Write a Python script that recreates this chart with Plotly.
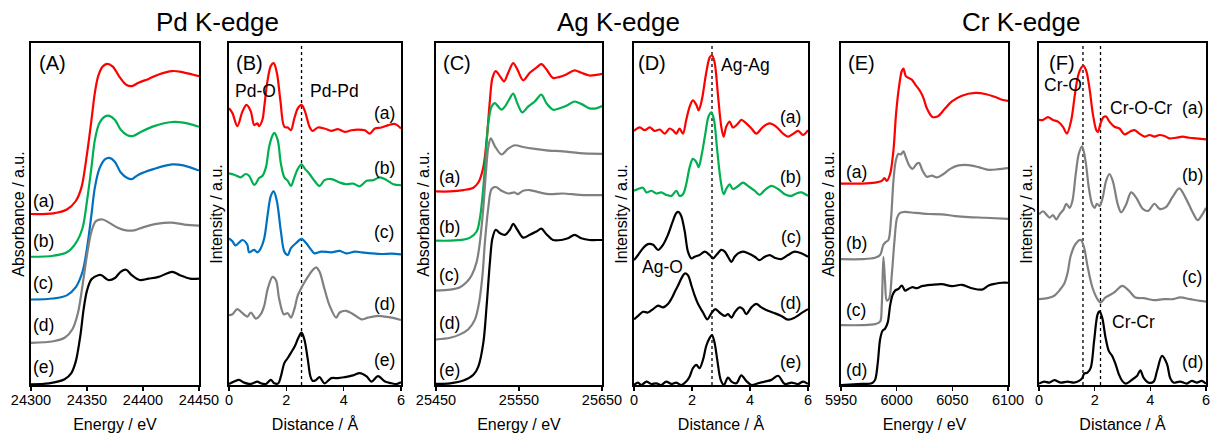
import plotly.graph_objects as go

W, H = 1211, 435
RED, GREEN, BLUE, GRAY, BLACK = "#ff0000", "#00b050", "#0070c0", "#808080", "#000000"
FONT = "Arial, 'Liberation Sans', Helvetica, sans-serif"

# ---------------- Panel A : Pd K-edge XANES ----------------
A_x_a = [24300, 24320, 24332, 24340, 24345, 24350, 24354, 24357, 24360, 24364, 24368, 24373, 24379, 24385, 24390, 24396, 24405, 24414, 24426, 24435, 24444, 24450]
A_y_a = [50.0, 50.2, 51.3, 53.8, 57.7, 67.6, 77.5, 85.4, 90.3, 93.1, 93.9, 93.1, 90.1, 87.8, 87.4, 88.4, 89.5, 90.8, 91.8, 91.5, 90.8, 90.3]
A_x_b = [24300, 24320, 24332, 24340, 24346, 24350, 24354, 24357, 24361, 24366, 24370, 24375, 24380, 24386, 24391, 24398, 24410, 24426, 24436, 24450]
A_y_b = [37.5, 37.8, 38.8, 41.5, 45.9, 53.8, 63.7, 71.6, 76.5, 78.5, 78.7, 77.5, 74.7, 73.0, 72.8, 74.0, 75.7, 76.9, 76.7, 75.5]
A_x_c = [24300, 24320, 24332, 24340, 24346, 24350, 24354, 24357, 24361, 24366, 24370, 24375, 24380, 24386, 24390, 24396, 24410, 24426, 24436, 24450]
A_y_c = [25.0, 25.3, 26.2, 28.6, 33.1, 40.0, 49.9, 57.7, 63.2, 66.0, 66.4, 65.2, 62.2, 60.5, 60.2, 61.5, 63.2, 64.5, 64.2, 62.7]
A_x_d = [24300, 24320, 24330, 24337, 24342, 24346, 24350, 24354, 24358, 24364, 24370, 24378, 24385, 24393, 24400, 24412, 24425, 24437, 24450]
A_y_d = [12.3, 12.8, 13.8, 16.3, 21.2, 29.1, 38.0, 44.9, 47.9, 48.4, 47.4, 45.9, 45.2, 45.3, 46.1, 47.1, 47.5, 46.9, 46.6]
A_x_e = [24300, 24316, 24330, 24336, 24340, 24344, 24347, 24350, 24354, 24360, 24363, 24369, 24375, 24380, 24385, 24390, 24397, 24405, 24414, 24426, 24433, 24442, 24450]
A_y_e = [0.2, 0.5, 1.7, 3.5, 6.9, 14.3, 22.2, 27.6, 30.9, 32.1, 32.1, 30.7, 31.3, 33.1, 33.7, 32.1, 30.7, 31.1, 31.6, 33.1, 32.1, 31.1, 31.1]

# ---------------- Panel B : Pd K-edge FT ----------------
B_x_a = [0, 0.12, 0.29, 0.47, 0.61, 0.76, 0.88, 0.99, 1.05, 1.17, 1.23, 1.35, 1.46, 1.56, 1.67, 1.79, 1.93, 2.05, 2.16, 2.28, 2.40, 2.53, 2.65, 2.81, 2.92, 3.10, 3.33, 3.57, 3.80, 4.04, 4.27, 4.50, 4.74, 4.91, 5.09, 5.32, 5.56, 5.79, 6.0]
B_y_a = [80.9, 79.5, 75.7, 80.0, 81.9, 80.0, 76.0, 76.5, 75.7, 77.7, 81.4, 89.3, 93.3, 94.1, 91.3, 83.4, 75.5, 75.3, 74.5, 78.0, 80.9, 81.9, 80.0, 75.5, 74.3, 75.3, 75.0, 74.3, 74.8, 74.0, 74.5, 74.7, 74.5, 73.5, 75.0, 75.3, 76.0, 76.3, 75.0]
B_x_b = [0, 0.18, 0.41, 0.58, 0.70, 0.88, 1.05, 1.17, 1.29, 1.40, 1.52, 1.58, 1.70, 1.81, 1.93, 2.05, 2.16, 2.28, 2.40, 2.53, 2.65, 2.81, 2.98, 3.16, 3.33, 3.57, 3.86, 4.09, 4.33, 4.56, 4.80, 5.03, 5.26, 5.50, 5.73, 6.0]
B_y_b = [61.9, 61.5, 60.7, 61.7, 61.2, 58.5, 60.5, 61.2, 63.7, 69.6, 73.0, 73.7, 71.6, 64.7, 60.7, 59.7, 58.2, 60.7, 63.2, 64.5, 63.2, 61.7, 59.7, 58.2, 59.9, 60.2, 59.2, 58.7, 58.9, 58.1, 59.7, 59.9, 60.7, 59.9, 58.7, 58.4]
B_x_c = [0, 0.12, 0.23, 0.47, 0.64, 0.70, 0.88, 0.99, 1.11, 1.23, 1.35, 1.46, 1.56, 1.67, 1.81, 1.93, 2.05, 2.16, 2.34, 2.53, 2.69, 2.87, 2.98, 3.22, 3.57, 3.86, 4.09, 4.39, 4.62, 4.97, 5.32, 5.67, 6.0]
B_y_c = [42.9, 42.0, 40.8, 42.4, 41.0, 38.8, 39.5, 38.8, 40.0, 42.9, 49.9, 55.3, 56.6, 53.8, 44.9, 39.0, 38.0, 40.0, 41.5, 42.7, 41.5, 39.5, 38.5, 39.0, 38.8, 39.2, 38.5, 39.0, 38.8, 38.5, 38.3, 38.4, 38.2]
B_x_d = [0, 0.12, 0.29, 0.47, 0.64, 0.76, 0.94, 1.11, 1.23, 1.35, 1.52, 1.64, 1.75, 1.91, 2.05, 2.16, 2.28, 2.40, 2.57, 2.75, 2.92, 3.04, 3.16, 3.33, 3.51, 3.74, 3.86, 4.09, 4.33, 4.62, 4.85, 5.20, 5.44, 5.67, 6.0]
B_y_d = [20.4, 20.7, 22.2, 21.0, 20.0, 21.2, 19.4, 20.7, 23.2, 28.1, 31.6, 30.6, 25.2, 20.7, 21.0, 19.7, 22.2, 26.2, 29.1, 31.6, 33.6, 34.4, 33.1, 28.1, 23.2, 19.7, 21.2, 21.7, 20.7, 19.2, 19.7, 20.2, 20.0, 19.7, 19.0]
B_x_e = [0, 0.18, 0.35, 0.53, 0.76, 0.99, 1.11, 1.29, 1.46, 1.58, 1.72, 1.81, 1.93, 2.05, 2.16, 2.30, 2.42, 2.53, 2.63, 2.75, 2.84, 2.92, 3.04, 3.16, 3.33, 3.57, 3.80, 4.04, 4.33, 4.56, 4.80, 4.97, 5.20, 5.44, 5.67, 5.85, 6.0]
B_y_e = [0.3, 1.0, 1.5, 0.7, 0.3, 1.0, 0.5, 0.3, 1.5, 0.5, 0.5, 2.5, 6.4, 7.9, 9.4, 11.4, 13.8, 15.3, 13.3, 7.4, 2.5, 1.2, 1.5, 2.3, 0.5, 2.0, 2.0, 2.3, 2.8, 3.5, 2.5, 1.0, 2.6, 1.0, 0.5, 0.3, 0.8]

# ---------------- Panel C : Ag K-edge XANES ----------------
C_x_a = [25450, 25467, 25483, 25495, 25501, 25507, 25511, 25515, 25518, 25522, 25527, 25532, 25537, 25543, 25548, 25555, 25563, 25571, 25577, 25583, 25591, 25599, 25607, 25617, 25625, 25635, 25643, 25650]
C_y_a = [56.6, 56.6, 57.0, 57.7, 59.2, 63.7, 71.6, 83.4, 89.8, 91.8, 90.3, 88.8, 91.3, 94.1, 92.3, 89.1, 91.3, 92.8, 93.8, 92.3, 89.8, 90.1, 90.8, 92.0, 91.3, 90.5, 90.7, 91.0]
C_x_b = [25450, 25467, 25483, 25491, 25499, 25503, 25507, 25510, 25513, 25517, 25521, 25525, 25529, 25533, 25538, 25543, 25548, 25554, 25561, 25569, 25577, 25583, 25591, 25599, 25609, 25617, 25625, 25635, 25643, 25650]
C_y_b = [42.2, 42.2, 42.5, 43.1, 44.9, 48.9, 57.7, 67.6, 76.5, 81.4, 82.4, 81.4, 80.5, 81.4, 83.4, 85.2, 82.4, 79.7, 81.4, 82.9, 84.9, 82.4, 80.5, 80.9, 81.9, 82.9, 82.2, 80.9, 80.9, 81.6]
C_x_c = [25450, 25467, 25479, 25487, 25493, 25499, 25503, 25507, 25510, 25513, 25516, 25521, 25529, 25537, 25545, 25555, 25567, 25583, 25603, 25623, 25650]
C_y_c = [27.6, 27.9, 28.6, 30.1, 32.1, 36.0, 42.0, 51.8, 61.7, 69.6, 72.1, 69.8, 67.4, 69.1, 70.1, 69.6, 69.1, 68.6, 68.3, 67.8, 67.6]
C_x_d = [25450, 25467, 25479, 25489, 25497, 25502, 25506, 25509, 25513, 25517, 25522, 25529, 25537, 25545, 25548, 25555, 25563, 25575, 25587, 25603, 25623, 25650]
C_y_d = [13.3, 13.8, 14.8, 16.3, 19.2, 24.2, 32.1, 42.0, 51.8, 57.3, 57.9, 56.8, 56.0, 56.3, 55.8, 56.8, 57.0, 56.3, 55.8, 56.0, 55.6, 55.5]
C_x_e = [25450, 25467, 25483, 25495, 25501, 25507, 25511, 25515, 25518, 25522, 25527, 25533, 25539, 25543, 25548, 25555, 25563, 25571, 25577, 25583, 25591, 25601, 25609, 25617, 25625, 25635, 25643, 25650]
C_y_e = [0.3, 0.5, 1.3, 3.0, 5.4, 12.3, 23.2, 36.0, 42.9, 45.4, 44.4, 43.9, 45.4, 47.1, 45.4, 43.1, 43.9, 44.9, 45.7, 44.1, 42.4, 42.4, 42.9, 43.9, 42.9, 42.4, 42.4, 42.4]

# ---------------- Panel D : Ag K-edge FT ----------------
D_x_a = [0, 0.20, 0.37, 0.54, 0.71, 0.89, 1.06, 1.23, 1.34, 1.46, 1.57, 1.69, 1.80, 1.92, 2.03, 2.15, 2.23, 2.34, 2.49, 2.61, 2.69, 2.78, 2.90, 3.01, 3.09, 3.18, 3.30, 3.41, 3.59, 3.70, 3.87, 4.05, 4.22, 4.45, 4.68, 4.91, 5.14, 5.31, 5.48, 5.66, 5.83, 6.0]
D_y_a = [74.3, 75.3, 74.5, 75.3, 74.3, 74.7, 73.5, 75.0, 74.5, 73.5, 75.0, 73.5, 77.5, 81.4, 83.2, 81.9, 80.3, 83.4, 91.3, 95.8, 96.4, 94.3, 84.4, 75.5, 72.6, 75.5, 77.0, 75.3, 76.5, 77.5, 76.5, 75.0, 73.5, 75.5, 76.5, 75.5, 73.5, 72.6, 73.4, 74.3, 73.1, 74.5]
D_x_b = [0, 0.14, 0.31, 0.43, 0.60, 0.77, 0.94, 1.11, 1.29, 1.46, 1.57, 1.69, 1.80, 1.92, 2.03, 2.15, 2.23, 2.34, 2.46, 2.57, 2.67, 2.76, 2.87, 2.99, 3.09, 3.18, 3.30, 3.41, 3.59, 3.76, 3.93, 4.16, 4.33, 4.51, 4.74, 4.97, 5.20, 5.43, 5.60, 5.77, 6.0]
D_y_b = [56.8, 57.3, 57.7, 56.3, 56.8, 56.0, 56.3, 55.6, 55.3, 56.8, 55.3, 55.8, 58.7, 63.7, 66.1, 65.2, 63.7, 67.6, 73.5, 78.5, 79.7, 77.5, 68.6, 59.7, 55.8, 57.3, 58.7, 57.3, 58.2, 59.2, 58.2, 56.8, 55.6, 57.0, 58.2, 57.3, 55.8, 55.3, 56.0, 56.3, 55.3]
D_x_c = [0, 0.14, 0.31, 0.48, 0.66, 0.83, 1.00, 1.17, 1.34, 1.46, 1.54, 1.63, 1.75, 1.86, 1.98, 2.09, 2.26, 2.44, 2.61, 2.72, 2.84, 3.01, 3.13, 3.24, 3.36, 3.47, 3.59, 3.76, 3.93, 4.16, 4.33, 4.51, 4.68, 4.85, 5.08, 5.31, 5.54, 5.77, 6.0]
D_y_c = [36.5, 38.0, 40.0, 41.2, 41.0, 39.5, 41.0, 43.9, 47.9, 50.3, 50.6, 49.4, 44.9, 39.0, 37.0, 37.5, 38.0, 39.0, 38.0, 37.0, 38.0, 39.5, 39.0, 37.5, 36.0, 37.5, 38.5, 39.0, 38.5, 37.5, 36.5, 37.5, 38.0, 37.2, 36.8, 38.0, 39.0, 38.5, 37.5]
D_x_d = [0, 0.14, 0.31, 0.48, 0.66, 0.83, 1.00, 1.17, 1.29, 1.40, 1.52, 1.63, 1.75, 1.86, 1.98, 2.09, 2.21, 2.38, 2.53, 2.67, 2.80, 2.95, 3.13, 3.24, 3.36, 3.47, 3.64, 3.76, 3.87, 4.05, 4.22, 4.39, 4.62, 4.85, 5.08, 5.31, 5.54, 5.77, 6.0]
D_y_d = [19.2, 20.2, 21.4, 21.2, 22.2, 23.2, 22.7, 23.7, 25.2, 27.1, 29.1, 31.1, 32.6, 32.1, 29.1, 26.2, 23.7, 21.2, 19.2, 21.0, 22.2, 21.2, 20.2, 20.7, 19.7, 21.2, 22.7, 22.2, 20.7, 22.7, 23.7, 22.7, 21.7, 21.0, 20.2, 19.1, 19.7, 21.0, 22.2]
D_x_e = [0, 0.14, 0.25, 0.43, 0.60, 0.77, 0.94, 1.11, 1.29, 1.46, 1.63, 1.80, 1.92, 2.03, 2.15, 2.26, 2.38, 2.49, 2.61, 2.69, 2.78, 2.87, 2.99, 3.10, 3.24, 3.36, 3.53, 3.70, 3.87, 4.05, 4.28, 4.51, 4.74, 4.97, 5.20, 5.43, 5.66, 5.83, 6.0]
D_y_e = [0.0, 0.7, 0.0, 1.0, 0.3, 0.5, 0.0, 1.0, 0.3, 0.7, 0.0, 1.0, 2.5, 4.9, 5.9, 4.9, 7.4, 11.4, 13.8, 14.6, 12.3, 7.4, 1.5, 0.0, 2.2, 1.0, 0.5, 2.8, 1.2, 0.0, 0.5, 1.0, 1.5, 2.7, 0.3, 0.7, 0.3, 1.0, 0.3]

# ---------------- Panel E : Cr K-edge XANES ----------------
E_x_a = [5950, 5968.6, 5980.6, 5986.6, 5989, 5991.1, 5994.1, 5997.1, 5999.5, 6002.2, 6004.6, 6006.1, 6008.2, 6010.6, 6013.6, 6016.6, 6021.1, 6024.1, 6027.1, 6031.6, 6034.6, 6037.6, 6043.6, 6049.6, 6058.6, 6070.6, 6079.6, 6088.6, 6094.6, 6100]
E_y_a = [58.9, 58.9, 59.2, 59.7, 60.5, 59.7, 61.7, 68.6, 79.5, 87.4, 91.8, 92.5, 90.3, 89.8, 89.3, 87.9, 85.9, 83.9, 80.9, 78.5, 78.3, 78.7, 80.9, 82.9, 84.6, 85.4, 85.1, 84.2, 83.4, 83.1]
E_x_b = [5950, 5968.6, 5980.6, 5985.1, 5988.1, 5990.2, 5992.6, 5995, 5997.1, 5999.2, 6001.6, 6003.7, 6006.1, 6008.2, 6011.2, 6014.2, 6018.1, 6020.2, 6023.2, 6027.1, 6031.6, 6036.1, 6042.1, 6048.1, 6055.6, 6064.6, 6073.6, 6082.6, 6091.6, 6100]
E_y_b = [36.8, 36.8, 37.2, 38.0, 41.0, 41.8, 42.4, 48.9, 59.7, 65.6, 67.6, 67.4, 68.3, 66.6, 64.2, 63.2, 64.7, 64.9, 62.7, 60.9, 61.2, 60.7, 61.7, 63.2, 64.2, 64.3, 63.7, 62.9, 63.1, 63.4]
E_x_c = [5950, 5968.6, 5980.6, 5985.1, 5986.6, 5988.1, 5989.6, 5991.1, 5993.2, 5995.6, 5998, 6000.4, 6003.1, 6007.6, 6016.6, 6028.6, 6040.6, 6052.6, 6064.6, 6079.6, 6100]
E_y_c = [17.5, 17.5, 17.8, 18.5, 23.2, 37.5, 30.1, 24.7, 25.2, 32.1, 42.0, 48.9, 50.3, 50.6, 50.3, 50.0, 49.9, 49.4, 49.1, 48.9, 48.6]
E_x_d = [5950, 5968.6, 5977.6, 5980.6, 5983, 5985.1, 5987.2, 5989.6, 5992, 5994.1, 5996.2, 5998.6, 6001.6, 6004.6, 6007.6, 6010.6, 6014.2, 6018.1, 6022.6, 6031.6, 6040.6, 6049.6, 6058.6, 6067.6, 6076.6, 6082.6, 6088.6, 6094.6, 6100]
E_y_d = [0.0, 0.3, 0.5, 1.5, 6.4, 13.3, 15.8, 16.5, 18.3, 23.2, 26.2, 27.6, 28.1, 29.1, 27.6, 28.1, 28.6, 28.3, 28.9, 29.3, 29.5, 28.9, 29.3, 28.3, 27.9, 29.1, 29.6, 29.9, 29.9]

# ---------------- Panel F : Cr K-edge FT ----------------
F_x_a = [0, 0.14, 0.32, 0.50, 0.68, 0.86, 1.00, 1.16, 1.28, 1.40, 1.52, 1.60, 1.70, 1.82, 1.94, 2.06, 2.12, 2.21, 2.32, 2.41, 2.53, 2.71, 2.89, 3.07, 3.25, 3.43, 3.61, 3.79, 3.97, 4.15, 4.33, 4.51, 4.69, 4.92, 5.16, 5.40, 5.64, 6.0]
F_y_a = [77.5, 77.5, 78.3, 77.5, 77.0, 75.5, 73.5, 77.5, 84.4, 90.3, 92.8, 93.3, 91.8, 86.4, 79.0, 74.5, 74.0, 76.5, 78.3, 78.5, 77.0, 75.5, 75.0, 73.3, 74.0, 74.5, 73.5, 72.6, 73.1, 72.6, 73.1, 72.8, 72.1, 72.3, 72.6, 72.3, 72.1, 71.8]
F_x_b = [0, 0.14, 0.26, 0.38, 0.50, 0.62, 0.74, 0.88, 0.98, 1.10, 1.20, 1.32, 1.43, 1.55, 1.67, 1.79, 1.91, 2.00, 2.08, 2.18, 2.29, 2.41, 2.53, 2.65, 2.83, 2.95, 3.13, 3.31, 3.49, 3.73, 3.92, 4.15, 4.33, 4.56, 4.80, 5.04, 5.28, 5.52, 5.70, 5.88, 6.0]
F_y_b = [49.9, 50.8, 49.9, 48.9, 49.7, 48.4, 49.9, 51.3, 53.0, 51.8, 53.8, 61.7, 67.6, 69.8, 65.6, 57.7, 52.8, 51.8, 53.0, 52.3, 54.8, 59.7, 61.7, 59.7, 52.8, 50.5, 52.8, 56.3, 54.8, 51.5, 50.9, 53.0, 51.5, 52.0, 55.0, 57.5, 54.5, 50.5, 48.2, 50.0, 51.8]
F_x_c = [0, 0.31, 0.55, 0.73, 0.90, 1.02, 1.14, 1.32, 1.50, 1.62, 1.74, 1.92, 2.10, 2.21, 2.39, 2.69, 2.99, 3.23, 3.46, 3.76, 4.12, 4.48, 4.83, 5.07, 5.43, 5.79, 6.0]
F_y_c = [25.1, 25.4, 26.1, 27.6, 29.5, 32.5, 37.8, 41.3, 42.4, 40.2, 34.9, 28.5, 25.1, 24.1, 25.6, 27.0, 29.0, 27.6, 25.6, 25.4, 24.8, 25.1, 25.1, 25.6, 25.1, 24.6, 24.4]
F_x_d = [0, 0.19, 0.37, 0.55, 0.79, 1.02, 1.26, 1.44, 1.56, 1.62, 1.74, 1.86, 1.98, 2.10, 2.17, 2.27, 2.39, 2.51, 2.63, 2.75, 2.87, 2.99, 3.11, 3.29, 3.40, 3.52, 3.64, 3.76, 3.94, 4.12, 4.24, 4.42, 4.60, 4.71, 4.83, 5.07, 5.31, 5.49, 5.67, 5.85, 6.0]
F_y_d = [0.4, 1.0, 0.7, 1.4, 0.7, 1.0, 0.7, 1.2, 2.1, 3.3, 3.6, 5.1, 12.9, 20.5, 21.5, 19.7, 13.9, 9.9, 8.5, 6.1, 3.1, 1.2, 0.4, 1.2, 1.9, 2.6, 4.3, 2.1, 0.7, 1.0, 4.1, 8.5, 6.1, 2.1, 0.7, 1.0, 0.4, 1.2, 0.7, 1.2, 0.4]

# reference distances (dotted lines)
B_vlines = [2.53]
D_vlines = [2.69]
F_vlines = [1.58, 2.21]

TITLES = ["Pd K-edge", "Ag K-edge", "Cr K-edge"]
CURVE_LABELS = ["(a)", "(b)", "(c)", "(d)", "(e)"]

# ---------------- figure ----------------
fig = go.Figure()


def add(sfx, x, y, color):
    fig.add_trace(go.Scatter(
        x=x, y=y, mode="lines",
        line=dict(color=color, width=2.2, shape="spline", smoothing=0.9),
        xaxis="x" + sfx, yaxis="y" + sfx, showlegend=False, hoverinfo="skip"))


for x, y, c in [(A_x_a, A_y_a, RED), (A_x_b, A_y_b, GREEN), (A_x_c, A_y_c, BLUE), (A_x_d, A_y_d, GRAY), (A_x_e, A_y_e, BLACK)]:
    add("", x, y, c)
for x, y, c in [(B_x_a, B_y_a, RED), (B_x_b, B_y_b, GREEN), (B_x_c, B_y_c, BLUE), (B_x_d, B_y_d, GRAY), (B_x_e, B_y_e, BLACK)]:
    add("2", x, y, c)
for x, y, c in [(C_x_a, C_y_a, RED), (C_x_b, C_y_b, GREEN), (C_x_c, C_y_c, GRAY), (C_x_d, C_y_d, GRAY), (C_x_e, C_y_e, BLACK)]:
    add("3", x, y, c)
for x, y, c in [(D_x_a, D_y_a, RED), (D_x_b, D_y_b, GREEN), (D_x_c, D_y_c, BLACK), (D_x_d, D_y_d, BLACK), (D_x_e, D_y_e, BLACK)]:
    add("4", x, y, c)
for x, y, c in [(E_x_a, E_y_a, RED), (E_x_b, E_y_b, GRAY), (E_x_c, E_y_c, GRAY), (E_x_d, E_y_d, BLACK)]:
    add("5", x, y, c)
for x, y, c in [(F_x_a, F_y_a, RED), (F_x_b, F_y_b, GRAY), (F_x_c, F_y_c, GRAY), (F_x_d, F_y_d, BLACK)]:
    add("6", x, y, c)


def px(x):
    return x / W


def py(y):
    return 1 - y / H


Y_DOM = [py(385), py(43)]
specs = [
    ("", (31, 199), [24300, 24450], [24300, 24350, 24400, 24450], "Energy / eV", "Absorbance / a.u."),
    ("2", (229, 401), [0, 6], [0, 2, 4, 6], "Distance / Å", "Intensity / a.u."),
    ("3", (436, 602), [25450, 25650], [25450, 25550, 25650], "Energy / eV", "Absorbance / a.u."),
    ("4", (634, 808), [0, 6], [0, 2, 4, 6], "Distance / Å", "Intensity / a.u."),
    ("5", (841, 1008), [5950, 6100], [5950, 6000, 6050, 6100], "Energy / eV", "Absorbance / a.u."),
    ("6", (1039, 1206), [0, 6], [0, 2, 4, 6], "Distance / Å", "Intensity / a.u."),
]

layout = dict(
    width=W, height=H, margin=dict(l=0, r=0, t=0, b=0, autoexpand=False),
    paper_bgcolor="white", plot_bgcolor="white",
    font=dict(family=FONT, color="black", size=14),
    showlegend=False,
)
for sfx, (l, r), xr, tv, xt, yt in specs:
    layout["xaxis" + sfx] = dict(
        domain=[px(l), px(r)], range=xr, tickvals=tv, ticktext=[str(t) for t in tv],
        ticks="outside", ticklen=4, tickwidth=1.5, tickcolor="black",
        ticklabelstandoff=-3,
        showline=True, linecolor="black", linewidth=1.8, mirror=True,
        showgrid=False, zeroline=False, anchor="y" + sfx, automargin=False,
        tickfont=dict(size=14.5), title=dict(text=xt, font=dict(size=16), standoff=11))
    layout["yaxis" + sfx] = dict(
        domain=Y_DOM, range=[0, 100], showticklabels=False, ticks="",
        showline=True, linecolor="black", linewidth=1.8, mirror=True,
        showgrid=False, zeroline=False, anchor="x" + sfx, automargin=False,
        title=dict(text=yt, font=dict(size=16), standoff=1))
fig.update_layout(**layout)

shapes = []
for sfx, lines in [("2", B_vlines), ("4", D_vlines), ("6", F_vlines)]:
    for v in lines:
        shapes.append(dict(type="line", xref="x" + sfx, yref="y" + sfx + " domain",
                           x0=v, x1=v, y0=0, y1=1, layer="below",
                           line=dict(color="black", width=1.3, dash="dot")))
fig.update_layout(shapes=shapes)

ann = []


def text(x, y, s, size):
    ann.append(dict(x=px(x), y=py(y), xref="paper", yref="paper", text=s, showarrow=False,
                    xanchor="center", yanchor="middle", font=dict(size=size, color="black")))


for t, cx in zip(TITLES, [217, 618, 1021]):
    text(cx, 22, t, 26)
for s, (x, y) in zip(["(A)", "(B)", "(C)", "(D)", "(E)", "(F)"],
                     [(52, 63), (249, 63), (457, 63), (652, 63), (862, 63), (1062, 63)]):
    text(x, y, s, 20)
# curve labels
for s, y in zip(CURVE_LABELS, [201, 241, 283, 325, 367]):
    text(43, y, s, 17.5)
for s, y in zip(CURVE_LABELS, [113, 168, 232, 304, 360]):
    text(384, y, s, 17.5)
for s, y in zip(CURVE_LABELS, [177, 227, 275, 323, 370]):
    text(449, y, s, 17.5)
for s, y in zip(CURVE_LABELS, [117, 177, 237, 303, 362]):
    text(791, y, s, 17.5)
for s, y in zip(CURVE_LABELS[:4], [172, 243, 310, 370]):
    text(856, y, s, 17.5)
for s, y in zip(CURVE_LABELS[:4], [108, 175, 277, 362]):
    text(1192, y, s, 17.5)
# bond labels
text(255, 91, "Pd-O", 17.5)
text(334, 91, "Pd-Pd", 17.5)
text(745, 65, "Ag-Ag", 17.5)
text(662, 267, "Ag-O", 17.5)
text(1063, 85, "Cr-O", 17.5)
text(1141, 108, "Cr-O-Cr", 17.5)
text(1133, 322, "Cr-Cr", 17.5)
fig.update_layout(annotations=ann)

fig.write_html(
    "out.html",
    config={"displayModeBar": False, "staticPlot": True},
    post_script="document.body.style.margin='0px';document.body.style.padding='0px';"
                "document.documentElement.style.overflow='hidden';")
